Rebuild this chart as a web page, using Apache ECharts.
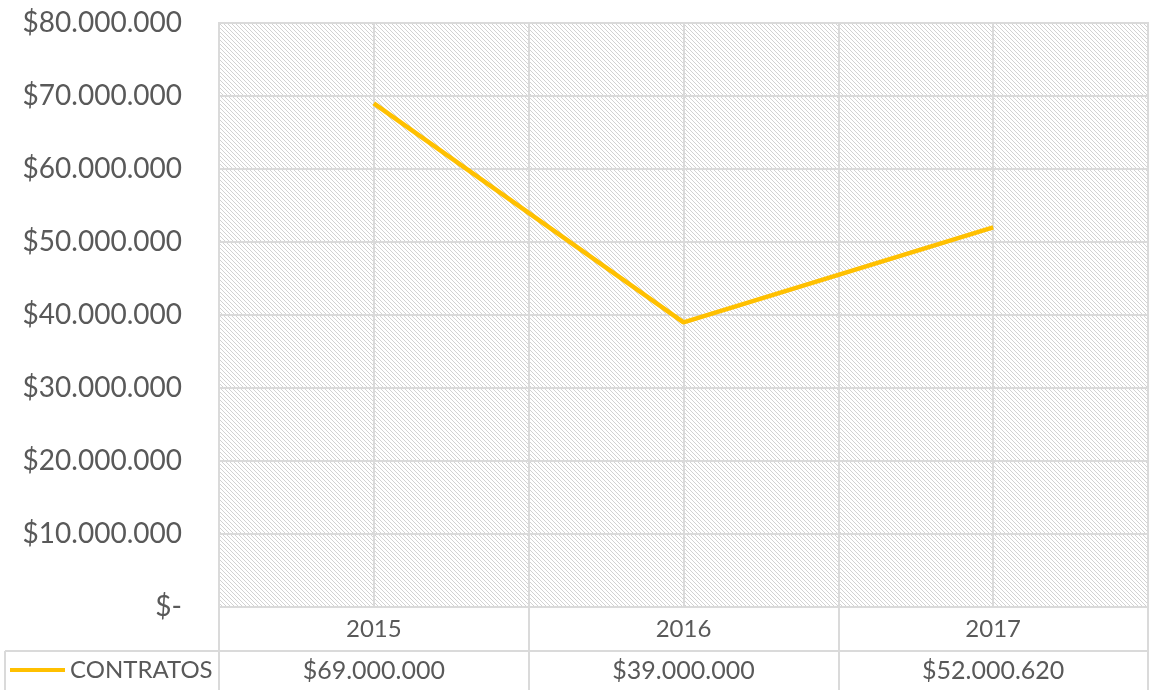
<!DOCTYPE html>
<html>
<head>
<meta charset="utf-8">
<script src="https://cdn.jsdelivr.net/npm/echarts@6/dist/echarts.min.js"></script>
<style>
  html, body { margin: 0; padding: 0; background: #fff; }
  #main { width: 1160px; height: 690px; }
</style>
</head>
<body>
<div id="main"></div>
<script>
// datos
var years = ['2015', '2016', '2017'];
var contratos = [69000000, 39000000, 52000620];
var seriesName = 'CONTRATOS';

var FONT = 'Lato';
var TXT = '#595959';
var GRID_C = '#dadada';

function money(v) {
    if (v === 0) return '$-';
    return '$' + String(v).replace(/\B(?=(\d{3})+(?!\d))/g, '.');
}

// trama diagonal del fondo
function hatch() {
    var c = document.createElement('canvas');
    c.width = 4; c.height = 4;
    var ctx = c.getContext('2d');
    ctx.fillStyle = '#fff';
    ctx.fillRect(0, 0, 4, 4);
    ctx.fillStyle = '#d2d2d2';
    for (var i = 0; i < 4; i++) ctx.fillRect(i, i, 1, 1);
    return c;
}

var myChart = echarts.init(document.getElementById('main'));
var option = {
    backgroundColor: '#fff',
    animation: false,
    textStyle: { fontFamily: FONT },
    grid: {
        left: 219, right: 12, top: 23, bottom: 83,
        show: true,
        borderColor: GRID_C,
        borderWidth: 2,
        backgroundColor: { image: hatch(), repeat: 'repeat' }
    },
    legend: {
        data: [seriesName],
        left: 10, top: 658, padding: 0,
        icon: 'rect', itemWidth: 55, itemHeight: 4, itemGap: 5,
        textStyle: { fontFamily: FONT, fontSize: 24, color: TXT }
    },
    xAxis: {
        type: 'category',
        data: years,
        boundaryGap: true,
        axisLine: { lineStyle: { color: GRID_C, width: 2 } },
        axisTick: { show: true, interval: 0, length: 83, lineStyle: { color: GRID_C, width: 2 } },
        splitLine: { show: true, interval: 0, lineStyle: { color: GRID_C, width: 2 } },
        axisLabel: {
            interval: 0, margin: 0,
            formatter: function (v, i) {
                return '{a|' + v + '}\n{b|' + money(contratos[i]) + '}';
            },
            rich: {
                a: { fontFamily: FONT, fontSize: 24, color: TXT, lineHeight: 44 },
                b: { fontFamily: FONT, fontSize: 25, color: TXT, lineHeight: 40 }
            }
        }
    },
    yAxis: {
        type: 'value',
        min: 0, max: 80000000, interval: 10000000,
        axisLine: { show: false },
        axisTick: { show: false },
        splitLine: { lineStyle: { color: GRID_C, width: 2 } },
        axisLabel: {
            margin: 37, fontFamily: FONT, fontSize: 28, color: TXT,
            formatter: money
        }
    },
    graphic: [
        { type: 'line', shape: { x1: 5, y1: 651, x2: 1148, y2: 651 }, style: { stroke: GRID_C, lineWidth: 2 } },
        { type: 'line', shape: { x1: 5, y1: 651, x2: 5, y2: 690 }, style: { stroke: GRID_C, lineWidth: 2 } }
    ],
    series: [
        {
            name: seriesName,
            type: 'line',
            data: contratos,
            symbol: 'none',
            z: 10,
            lineStyle: { color: '#FFC000', width: 4.5 },
            itemStyle: { color: '#FFC000' },
            markLine: {
                silent: true, z: 1,
                symbol: 'none',
                label: { show: false },
                lineStyle: { color: GRID_C, width: 2, type: 'solid' },
                data: years.map(function (y) { return { xAxis: y }; })
            }
        }
    ]
};
myChart.setOption(option, true);
</script>
</body>
</html>
